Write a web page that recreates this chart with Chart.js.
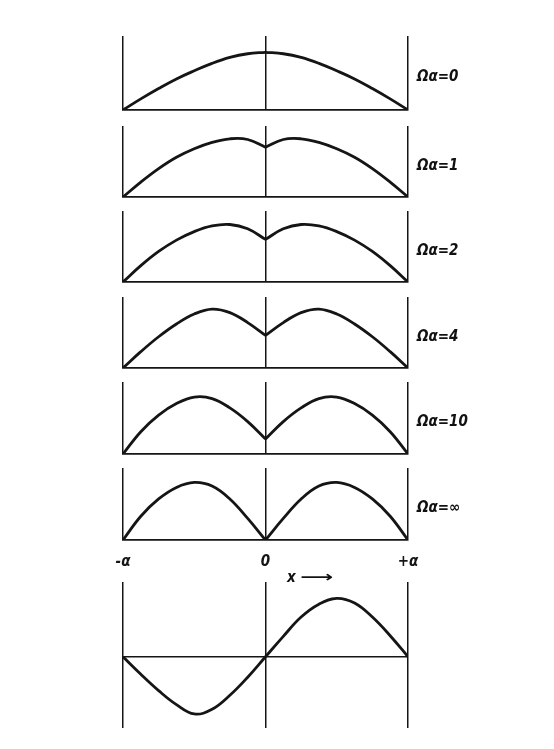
<!doctype html>
<html lang="en">
<head>
  <meta charset="utf-8">
  <title>Ωα profiles</title>
  <script src="https://cdn.jsdelivr.net/npm/chart.js@4"></script>
  <style>
    body { margin: 0; background: #fff; }
    #wrap { position: relative; width: 554px; height: 749px; }
    #wrap canvas { position: absolute; }
    .lbl {
      position: absolute; white-space: nowrap; color: #111;
      font: italic bold 15px "Liberation Sans Narrow", "DejaVu Sans Condensed", "DejaVu Sans", sans-serif;
      transform: translateY(-50%);
    }
    .arrow { display: inline-block; transform: scaleX(1.7); transform-origin: left center; }
  </style>
</head>
<body>
<div id="wrap"></div>
<script>
  // x positions of the samples, in units of a
  const leftX = [-1, -0.875, -0.75, -0.625, -0.5, -0.375, -0.25, -0.125, 0];
  const rightX = [0, 0.125, 0.25, 0.375, 0.5, 0.625, 0.75, 0.875, 1];
  const fullX = [-1, -0.875, -0.75, -0.625, -0.5, -0.375, -0.25, -0.125, 0,
                 0.125, 0.25, 0.375, 0.5, 0.625, 0.75, 0.875, 1];

  const omegaLabels = ['Ωα=0', 'Ωα=1', 'Ωα=2', 'Ωα=4', 'Ωα=10', 'Ωα=∞'];
  const xTickLabels = ['-α', '0', '+α'];

  // profile heights: 0 = baseline, 1 = top of the frame
  const leftHalves = [
    [0, 0.15, 0.29, 0.42, 0.53, 0.63, 0.71, 0.76, 0.78],
    [0, 0.21, 0.40, 0.56, 0.68, 0.77, 0.82, 0.81, 0.70],
    [0, 0.23, 0.43, 0.59, 0.71, 0.79, 0.81, 0.75, 0.60],
    [0, 0.23, 0.44, 0.62, 0.76, 0.83, 0.78, 0.64, 0.46],
    [0, 0.31, 0.54, 0.70, 0.79, 0.77, 0.64, 0.45, 0.21],
    [0, 0.33, 0.57, 0.73, 0.80, 0.75, 0.57, 0.30, 0]
  ];
  const rightHalves = [
    [0.78, 0.76, 0.71, 0.63, 0.53, 0.42, 0.29, 0.15, 0],
    [0.70, 0.81, 0.82, 0.77, 0.68, 0.56, 0.40, 0.21, 0],
    [0.60, 0.75, 0.81, 0.79, 0.71, 0.59, 0.43, 0.23, 0],
    [0.46, 0.64, 0.78, 0.83, 0.76, 0.62, 0.44, 0.23, 0],
    [0.21, 0.45, 0.64, 0.77, 0.79, 0.70, 0.54, 0.31, 0],
    [0, 0.30, 0.57, 0.75, 0.80, 0.73, 0.57, 0.33, 0]
  ];
  // bottom plot, in units of its amplitude
  const oddProfile = [0, -0.30, -0.58, -0.82, -0.98, -0.90, -0.66, -0.35, 0,
                      0.35, 0.68, 0.90, 1.0, 0.92, 0.68, 0.36, 0];

  const ink = '#151515';
  const fontFamily = '"Liberation Sans Narrow", "DejaVu Sans Condensed", "DejaVu Sans", sans-serif';
  const wrap = document.getElementById('wrap');
  const L = 123, W = 285, PAD = 26;
  const frames = [[36, 110], [126, 197], [211, 282], [297, 368], [382, 454], [468, 540]];

  const pts = (xs, ys) => xs.map((x, i) => ({ x: x, y: ys[i] }));

  function panel(top, bottom, datasets, cfg) {
    const extra = cfg.tickLabels ? 44 : 0;
    const c = document.createElement('canvas');
    c.width = W + 2 * PAD;
    c.height = bottom - top + 2 * PAD + extra;
    c.style.left = (L - PAD) + 'px';
    c.style.top = (top - PAD) + 'px';
    wrap.appendChild(c);
    return new Chart(c, {
      type: 'line',
      data: { datasets: datasets },
      options: {
        responsive: false,
        animation: false,
        layout: { padding: PAD },
        plugins: { legend: { display: false }, tooltip: { enabled: false } },
        elements: {
          point: { radius: 0 },
          line: { borderColor: ink, borderWidth: 2.8, tension: 0.4 }
        },
        scales: {
          x: {
            type: 'linear', min: -1, max: 1,
            afterBuildTicks: s => { s.ticks = [-1, 0, 1].map(v => ({ value: v })); },
            grid: { color: ink, lineWidth: 1.5, drawTicks: false },
            border: { display: cfg.baseline, color: ink, width: 1.7 },
            ticks: {
              display: !!cfg.tickLabels, padding: 13, color: ink,
              font: { family: fontFamily, size: 15, style: 'italic', weight: 'bold' },
              callback: (v, i) => xTickLabels[i]
            }
          },
          y: {
            type: 'linear', min: cfg.yMin, max: cfg.yMax,
            display: !!cfg.zeroLine,
            afterBuildTicks: s => { s.ticks = [{ value: 0 }]; },
            grid: { color: ink, lineWidth: 1.5, drawTicks: false },
            border: { display: false },
            ticks: { display: false }
          }
        }
      }
    });
  }

  frames.forEach((f, k) => {
    panel(f[0], f[1], [
      { data: pts(leftX, leftHalves[k]) },
      { data: pts(rightX, rightHalves[k]) }
    ], { yMin: 0, yMax: 1, baseline: true, tickLabels: k === frames.length - 1 });

    const s = document.createElement('span');
    s.className = 'lbl';
    s.textContent = omegaLabels[k];
    s.style.left = '417px';
    s.style.top = ((f[0] + f[1]) / 2 + 3) + 'px';
    wrap.appendChild(s);
  });

  panel(582, 728, [{ data: pts(fullX, oddProfile) }],
        { yMin: -1.22, yMax: 1.28, baseline: false, zeroLine: true });

  const xl = document.createElement('span');
  xl.className = 'lbl';
  xl.innerHTML = 'x <span class="arrow">⟶</span>';
  xl.style.left = '287px';
  xl.style.top = '577px';
  wrap.appendChild(xl);
</script>
</body>
</html>
